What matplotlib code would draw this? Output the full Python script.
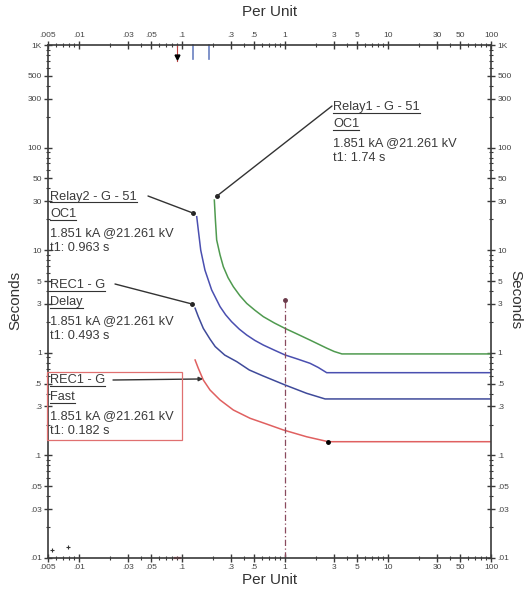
import matplotlib
matplotlib.use("Agg")
import matplotlib.pyplot as plt
from matplotlib.lines import Line2D
from matplotlib.patches import Rectangle
from matplotlib.ticker import FixedLocator, FixedFormatter, LogLocator, NullFormatter

# curvas tempo x corrente (per unit / segundos)
relay1_pu = [0.206, 0.211, 0.217, 0.234, 0.252, 0.28, 0.315, 0.365, 0.425, 0.51, 0.616,
             0.79, 1.0, 1.32, 1.75, 2.54, 3.0, 3.57, 100]
relay1_t = [30.8, 19.7, 12.6, 9.0, 6.9, 5.4, 4.41, 3.6, 3.03, 2.6, 2.25,
            1.95, 1.73, 1.52, 1.33, 1.11, 1.03, 0.975, 0.975]

relay2_pu = [0.139, 0.144, 0.152, 0.167, 0.194, 0.234, 0.265, 0.303, 0.36, 0.425, 0.51,
             0.616, 0.79, 1.0, 1.32, 1.75, 2.1, 2.54, 100]
relay2_t = [21.2, 15.7, 10.0, 6.4, 4.1, 2.82, 2.35, 2.01, 1.7, 1.49, 1.32,
            1.19, 1.06, 0.953, 0.87, 0.79, 0.72, 0.64, 0.64]

rec_delay_pu = [0.134, 0.144, 0.161, 0.187, 0.21, 0.26, 0.34, 0.45, 0.6, 1.0, 1.62, 2.45, 100]
rec_delay_t = [2.72, 2.25, 1.73, 1.36, 1.15, 0.95, 0.82, 0.68, 0.6, 0.486, 0.403, 0.355, 0.355]

rec_fast_pu = [0.134, 0.144, 0.161, 0.187, 0.234, 0.315, 0.458, 0.664, 0.963, 1.62, 2.63, 100]
rec_fast_t = [0.851, 0.706, 0.543, 0.434, 0.347, 0.277, 0.230, 0.202, 0.177, 0.152, 0.136, 0.136]

falta_pu = 1.0
falta_t = [0.01, 3.3]

marca_topo_pu = [0.089]
marcas_azuis_pu = [0.128, 0.183]
pontos_base_pu = [0.0055, 0.0078]
pontos_base_t = [0.012, 0.0128]

x_ticks = [0.005, 0.01, 0.03, 0.05, 0.1, 0.3, 0.5, 1, 3, 5, 10, 30, 50, 100]
x_labels = [".005", ".01", ".03", ".05", ".1", ".3", ".5", "1", "3", "5", "10", "30", "50", "100"]
y_ticks = [0.01, 0.03, 0.05, 0.1, 0.3, 0.5, 1, 3, 5, 10, 30, 50, 100, 300, 500, 1000]
y_labels = [".01", ".03", ".05", ".1", ".3", ".5", "1", "3", "5", "10", "30", "50", "100", "300", "500", "1K"]

rotulos = [
    # (x, y, linhas sublinhadas, linhas normais, ponto (pu, t), origem da linha)
    (333, 107, ["Relay1 - G - 51", "OC1"], ["1.851 kA @21.261 kV", "t1: 1.74 s"], (0.218, 33.7), (332, 106)),
    (50, 197, ["Relay2 - G - 51", "OC1"], ["1.851 kA @21.261 kV", "t1: 0.963 s"], (0.128, 23.0), (148, 196)),
    (50, 285, ["REC1 - G", "Delay"], ["1.851 kA @21.261 kV", "t1: 0.493 s"], (0.125, 2.99), (115, 284)),
    (50, 380, ["REC1 - G", "Fast"], ["1.851 kA @21.261 kV", "t1: 0.182 s"], (0.16, 0.556), (113, 380)),
]
ESPACOS = [0, 17, 36, 51]

W, H = 527, 589
plt.rcParams["font.family"] = ["Liberation Sans", "DejaVu Sans"]

fig = plt.figure(figsize=(W / 100, H / 100), dpi=100)
ax = fig.add_axes([48 / W, 1 - 558 / H, (491 - 48) / W, (558 - 45) / H])
ax.set_xscale("log")
ax.set_yscale("log")
ax.set_xlim(0.005, 100)
ax.set_ylim(0.01, 1000)

cor_eixo = "#3a3a3a"
for spine in ax.spines.values():
    spine.set_color(cor_eixo)
    spine.set_linewidth(1.2)

ax.xaxis.set_major_locator(FixedLocator(x_ticks))
ax.xaxis.set_major_formatter(FixedFormatter(x_labels))
ax.yaxis.set_major_locator(FixedLocator(y_ticks))
ax.yaxis.set_major_formatter(FixedFormatter(y_labels))
ax.xaxis.set_minor_locator(LogLocator(base=10, subs=range(1, 10), numticks=20))
ax.yaxis.set_minor_locator(LogLocator(base=10, subs=range(1, 10), numticks=20))
ax.xaxis.set_minor_formatter(NullFormatter())
ax.yaxis.set_minor_formatter(NullFormatter())
ax.tick_params(which="both", direction="inout", top=True, right=True,
               labeltop=True, labelright=True, colors=cor_eixo,
               labelsize=6, labelcolor="#444444")
ax.tick_params(which="major", length=6, width=1.0, pad=1.5)
ax.tick_params(which="minor", length=3.5, width=0.8)

# curvas
ax.plot(relay1_pu, relay1_t, color="#4f9a4f", linewidth=1.1)
ax.plot(relay2_pu, relay2_t, color="#4a4fb0", linewidth=1.1)
ax.plot(rec_delay_pu, rec_delay_t, color="#3f4a9a", linewidth=1.1)
ax.plot(rec_fast_pu, rec_fast_t, color="#e06060", linewidth=1.1)
ax.plot([rec_fast_pu[-2]], [rec_fast_t[-2]], "o", color="black", markersize=2.5)

# linha da falta
ax.plot([falta_pu, falta_pu], falta_t, color="#8a4a5e", linewidth=0.9,
        linestyle=(0, (5, 2, 1, 2)))
ax.plot([falta_pu], [falta_t[1]], marker="o", color="#6a3a4a", markersize=2.5)

# marcas no topo e na base
for pu in marca_topo_pu:
    ax.plot([pu, pu], [1000, 700], color="#c04040", linewidth=0.8, clip_on=False)
    ax.plot([pu], [760], marker="v", color="black", markersize=3.5, clip_on=False)
for pu in marcas_azuis_pu:
    ax.plot([pu, pu], [1000, 730], color="#6a80c0", linewidth=1.2, clip_on=False)
ax.plot([0.085, 0.095], [0.01, 0.01], color="#e06070", linewidth=1.6, clip_on=False)
ax.plot(pontos_base_pu, pontos_base_t, "+", color="#333333", markersize=3, markeredgewidth=0.8)

# títulos dos eixos
fig.text(269.5 / W, 1 - 12 / H, "Per Unit", ha="center", va="center", fontsize=11, color="#333333")
fig.text(269.5 / W, 1 - 580 / H, "Per Unit", ha="center", va="center", fontsize=11, color="#333333")
fig.text(15 / W, 1 - 300 / H, "Seconds", ha="center", va="center", rotation=90, fontsize=11, color="#333333")
fig.text(515 / W, 1 - 300 / H, "Seconds", ha="center", va="center", rotation=270, fontsize=11, color="#333333")

# rótulos com linhas de chamada
textos_sub = []
for i, (x0, y0, sub, normais, alvo, origem) in enumerate(rotulos):
    linhas = sub + normais
    for j, linha in enumerate(linhas):
        t = fig.text(x0 / W, 1 - (y0 + ESPACOS[j]) / H, linha, ha="left", va="center",
                     fontsize=9.2, color="#3a3a3a")
        if j < len(sub):
            textos_sub.append(t)
    estilo = "-|>" if i == 3 else "-"
    ax.annotate("", xy=alvo, xycoords="data",
                xytext=(origem[0], H - origem[1]), textcoords="figure pixels",
                arrowprops=dict(arrowstyle=estilo, color="#333333", linewidth=1.0,
                                shrinkA=0, shrinkB=0, mutation_scale=6))
    if i < 3:
        ax.plot([alvo[0]], [alvo[1]], "o", color="#222222", markersize=2.5)

# caixa do religador rápido
fig.add_artist(Rectangle((47 / W, 1 - 440 / H), (182 - 47) / W, (440 - 372) / H,
                         transform=fig.transFigure, fill=False,
                         edgecolor="#e07070", linewidth=0.9))

# sublinhado dos nomes
fig.canvas.draw()
renderer = fig.canvas.get_renderer()
for t in textos_sub:
    bb = t.get_window_extent(renderer)
    fig.add_artist(Line2D([bb.x0 / W, bb.x1 / W], [(bb.y0 + 0.5) / H, (bb.y0 + 0.5) / H],
                          transform=fig.transFigure, color="#333333", linewidth=0.8))

fig.savefig("out.png", dpi=100)
